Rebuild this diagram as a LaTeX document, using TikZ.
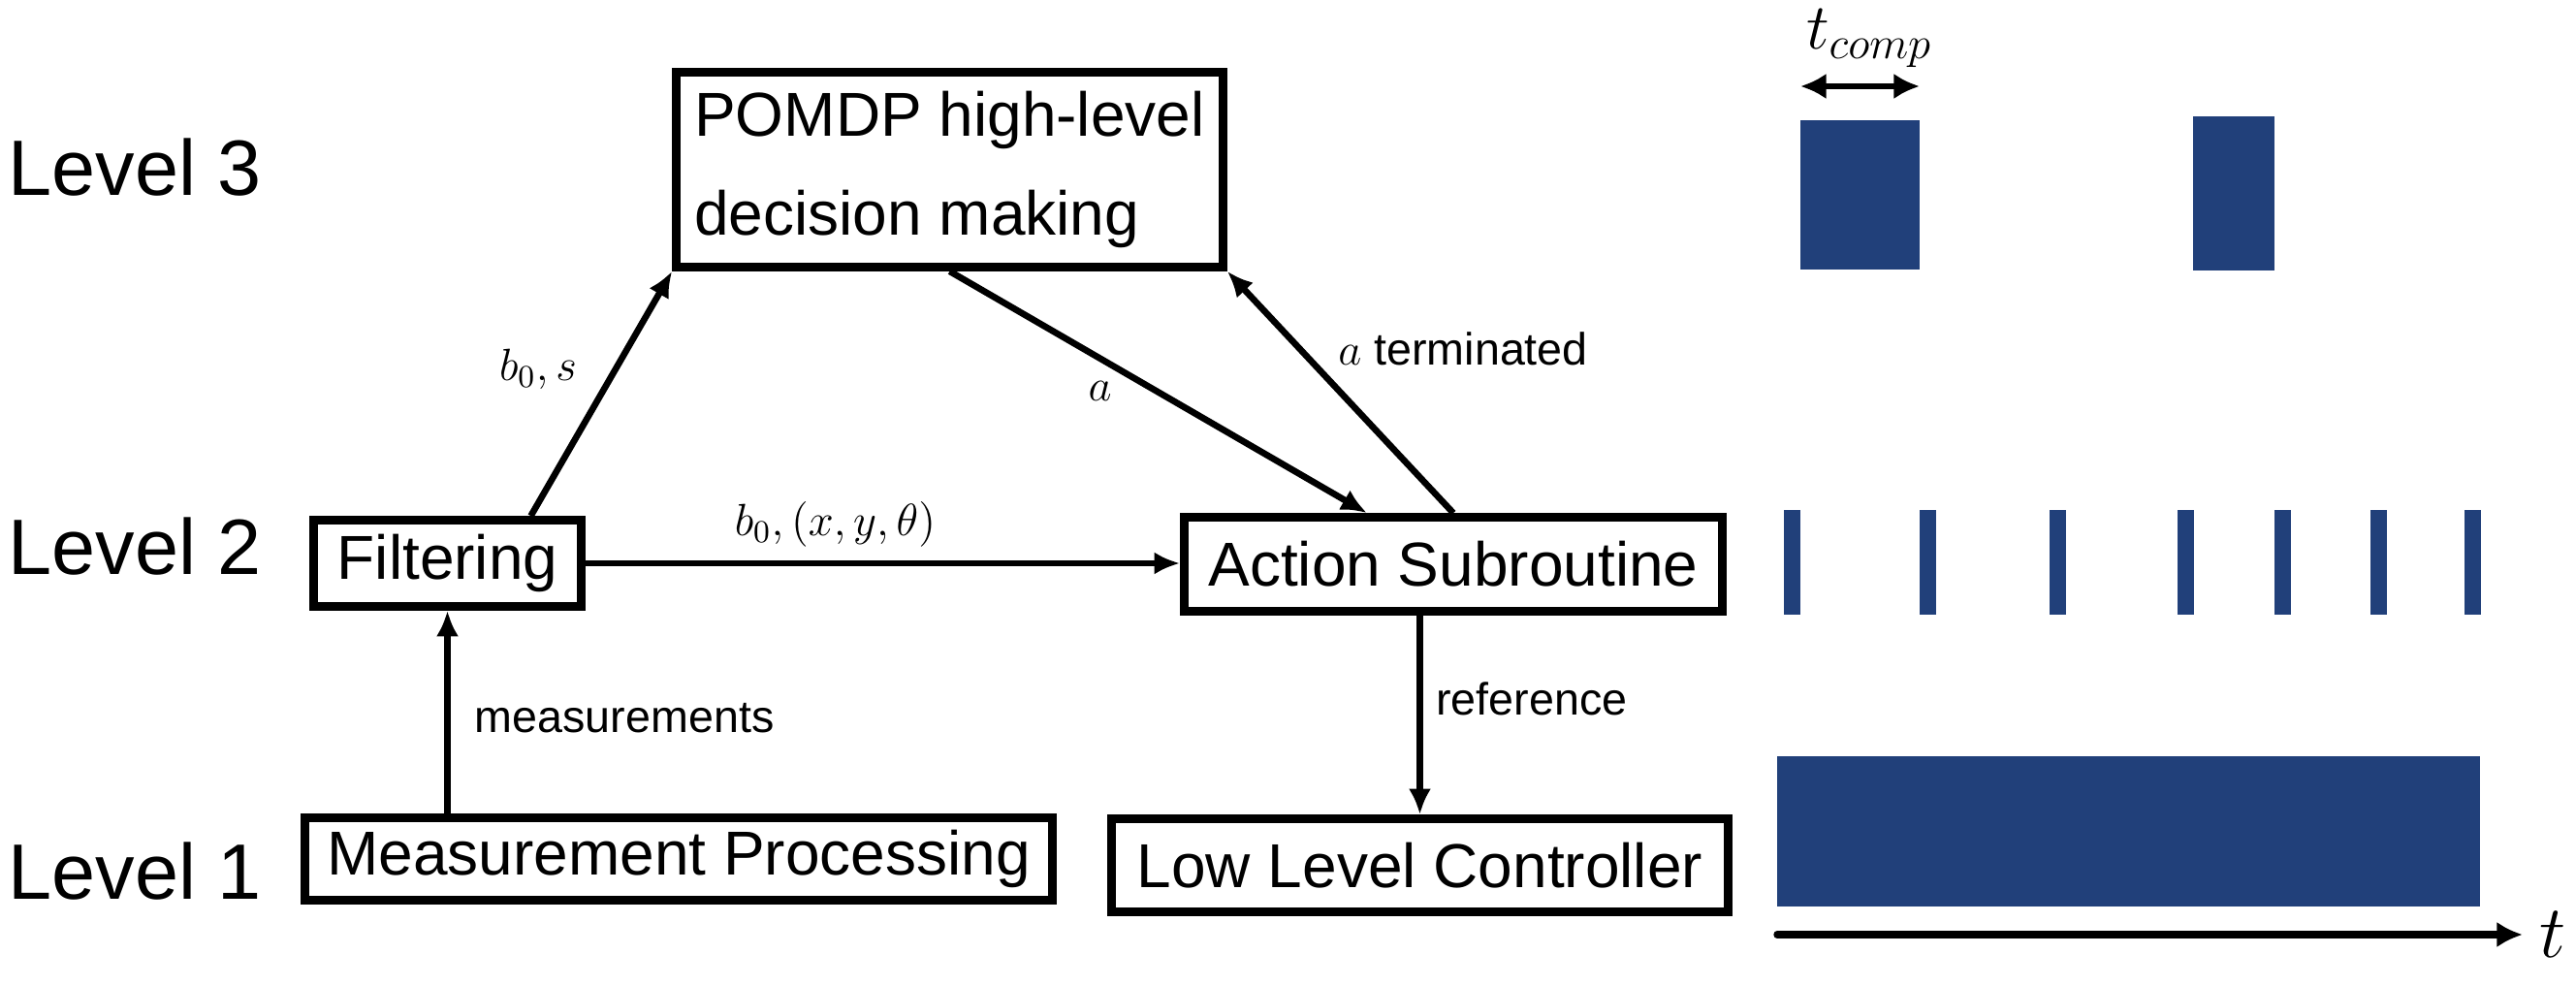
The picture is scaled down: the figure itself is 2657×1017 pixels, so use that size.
\RequirePackage{fix-cm}
\documentclass[tikz,border=0pt]{standalone}
\usepackage{amsmath}
\usepackage{fontspec}
\setmainfont{Liberation Sans}
\usetikzlibrary{arrows.meta}
\usetikzlibrary{calc}
\usetikzlibrary{positioning}
\definecolor{barblue}{RGB}{33,64,122}
\tikzset{block/.style = {draw, line width = 2.6pt, inner sep = 0, font = \fontsize{19.2}{30.6}\selectfont}}
\tikzset{levellabel/.style = {inner sep = 0, anchor = base west, font = \fontsize{24.3}{29}\selectfont}}
\tikzset{msg/.style = {inner sep = 0, font = \fontsize{14}{17}\selectfont}}
\tikzset{flow/.style = {line width = 2pt, -{Latex[length = 8pt, width = 7pt]}}}
\tikzset{bar/.style = {fill = barblue}}

\begin{document}
\begin{tikzpicture}[x = 0.3pt, y = -0.3pt]
  \useasboundingbox (0, 0) rectangle (2657, 1017);
  % levels
  \node [levellabel] (lv3) at (8, 202) {Level 3};
  \node [levellabel] (lv2) at (8, 593) {Level 2};
  \node [levellabel] (lv1) at (8, 927) {Level 1};
  % blocks
  \node [block, align = left, minimum width = 169.2pt, minimum height = 60.3pt] (pomdp) at (979.5, 175) {POMDP high-level\\decision making};
  \node [block, minimum width = 82.8pt, minimum height = 26.7pt] (filt) at (461.5, 581) {Filtering};
  \node [block, minimum width = 166.5pt, minimum height = 29.1pt] (act) at (1499, 582) {Action Subroutine};
  \node [block, minimum width = 231.3pt, minimum height = 25.5pt] (meas) at (700, 886) {Measurement Processing};
  \node [block, minimum width = 190.8pt, minimum height = 28.8pt] (llc) at (1464.5, 892.5) {Low Level Controller};
  % connectors
  \draw [flow] (meas.north -| filt.south) -- node [msg, pos = 0.47, right = 7.5pt] {measurements} (filt.south);
  \draw [flow] ($(filt.north) + (86, 0)$) -- node [msg, pos = 0.6, left = 11pt] {$b_0, s$} (pomdp.south west);
  \draw [flow] (filt.east) -- node [msg, pos = 0.42, above = 4pt] {$b_0, (x, y, \theta)$} (filt.east -| act.west);
  \draw [flow] (pomdp.south) -- node [msg, pos = 0.36, below = 6pt] {$a$} ($(act.north) + (-89, 0)$);
  \draw [flow] (act.north) -- node [msg, pos = 0.68, right = 11pt] {$a$ terminated} (pomdp.south east);
  \draw [flow] (act.south -| llc.north) -- node [msg, pos = 0.42, right = 4pt] {reference} (llc.north);
  % level 3 timing
  \fill [bar] (1857, 124) rectangle (1980, 278);
  \fill [bar] (2262, 120) rectangle (2346, 279);
  \coordinate (tc1) at (1857, 89);
  \coordinate (tc2) at (1980, 89);
  \draw [line width = 1.6pt, {Latex[length = 8pt, width = 8pt]}-{Latex[length = 8pt, width = 8pt]}] (tc1) -- (tc2);
  \node [inner sep = 0, font = \fontsize{20}{24}\selectfont] (tcomp) at (1928, 40) {$t_{comp}$};
  % level 2 timing
  \foreach \x in {1840, 1980, 2114, 2246, 2346, 2445, 2542}
    \fill [bar] (\x, 526) rectangle ++(17, 108);
  % level 1 timing
  \fill [bar] (1833, 780) rectangle (2558, 935);
  \coordinate (t0) at (1833, 964);
  \coordinate (t1) at (2602, 964);
  \draw [line width = 2.2pt, line cap = round, -{Latex[length = 8pt, width = 8pt]}] (t0) -- (t1) node [right = 4pt, inner sep = 0, font = \fontsize{23}{28}\selectfont] (tlabel) {$t$};
\end{tikzpicture}
\end{document}
